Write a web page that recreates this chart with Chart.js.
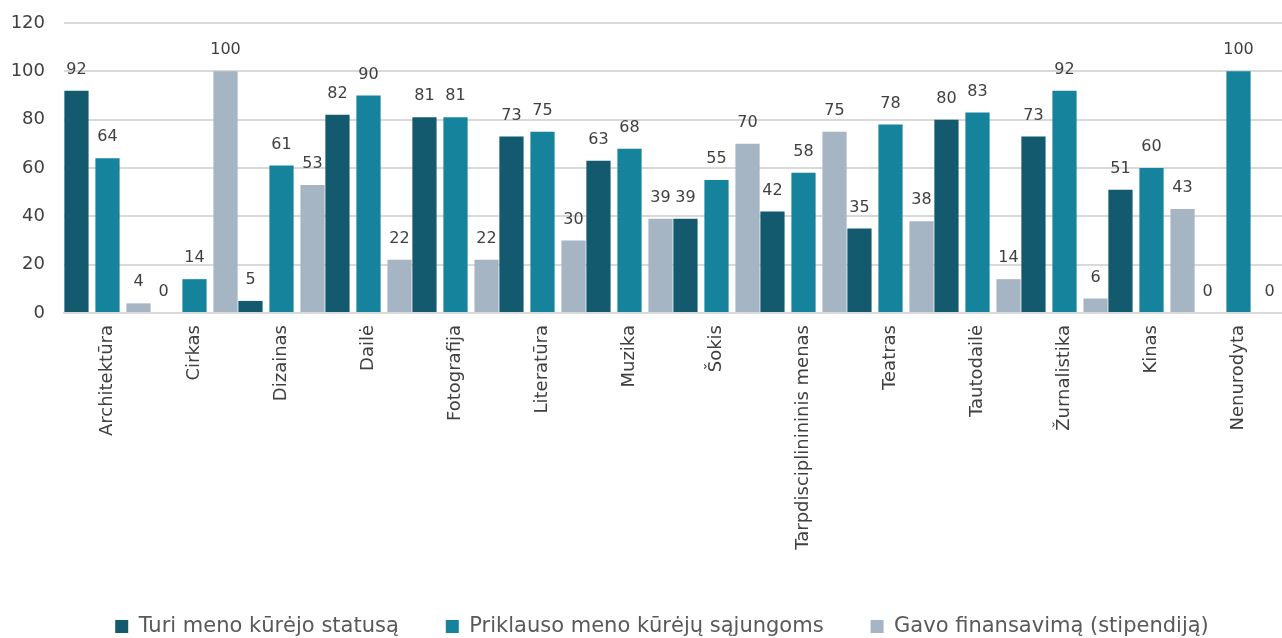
<!DOCTYPE html>
<html>
<head>
<meta charset="utf-8">
<script src="https://cdn.jsdelivr.net/npm/chart.js@4"></script>
<style>
    html, body { margin: 0; padding: 0; background: #fff; }
    #wrap { width: 1282px; height: 638px; }
</style>
</head>
<body>
<div id="wrap"><canvas id="chart"></canvas></div>
<script>
const categories = ['Architektūra', 'Cirkas', 'Dizainas', 'Dailė', 'Fotografija', 'Literatūra', 'Muzika',
    'Šokis', 'Tarpdisciplinininis menas', 'Teatras', 'Tautodailė', 'Žurnalistika', 'Kinas', 'Nenurodyta'];
const statusValues = [92, 0, 5, 82, 81, 73, 63, 39, 42, 35, 80, 73, 51, 0];
const unionValues = [64, 14, 61, 90, 81, 75, 68, 55, 58, 78, 83, 92, 60, 100];
const fundingValues = [4, 100, 53, 22, 22, 30, 39, 70, 75, 38, 14, 6, 43, 0];
const yTicks = [0, 20, 40, 60, 80, 100, 120];

const fontFamily = '"DejaVu Sans", sans-serif';
const textColor = '#404040';

// value labels above each bar
const barLabels = {
    id: 'barLabels',
    afterDatasetsDraw(chart) {
        const ctx = chart.ctx;
        ctx.save();
        ctx.font = '16px ' + fontFamily;
        ctx.fillStyle = textColor;
        ctx.textAlign = 'center';
        ctx.textBaseline = 'bottom';
        chart.data.datasets.forEach((ds, i) => {
            chart.getDatasetMeta(i).data.forEach((bar, j) => {
                ctx.fillText(ds.data[j], bar.x, bar.y - 13);
            });
        });
        ctx.restore();
    }
};

// legend in the original sits a little right of centre
const legendShift = {
    id: 'legendShift',
    afterLayout(chart) {
        chart.legend.left += 16;
        chart.legend.right += 16;
    }
};

function dataset(label, data, color) {
    return {
        label: label,
        data: data,
        backgroundColor: color,
        borderWidth: 0,
        categoryPercentage: 1.07,
        barPercentage: 0.78
    };
}

new Chart(document.getElementById('chart'), {
    type: 'bar',
    data: {
        labels: categories,
        datasets: [
            dataset('Turi meno kūrėjo statusą', statusValues, '#135a6f'),
            dataset('Priklauso meno kūrėjų sąjungoms', unionValues, '#16839c'),
            dataset('Gavo finansavimą (stipendiją)', fundingValues, '#a5b5c3')
        ]
    },
    options: {
        responsive: true,
        maintainAspectRatio: false,
        animation: false,
        layout: { padding: { top: 23, right: 0, left: 10, bottom: -9 } },
        plugins: {
            tooltip: { enabled: false },
            legend: {
                position: 'bottom',
                labels: {
                    boxWidth: 13,
                    boxHeight: 13,
                    padding: 47,
                    color: '#595959',
                    font: { family: fontFamily, size: 21 }
                }
            }
        },
        scales: {
            x: {
                grid: { display: false },
                border: { color: '#d9d9d9', width: 2 },
                afterFit(axis) { axis.height = 256; },
                ticks: {
                    minRotation: 90,
                    maxRotation: 90,
                    autoSkip: false,
                    padding: 4,
                    color: textColor,
                    font: { family: fontFamily, size: 18 }
                }
            },
            y: {
                min: 0,
                max: 120,
                afterBuildTicks(axis) {
                    axis.ticks = yTicks.map(v => ({ value: v }));
                },
                afterFit(axis) {
                    axis.width = 54;
                    axis.paddingTop = 0;
                    axis.paddingBottom = 0;
                },
                grid: { color: '#d9d9d9', lineWidth: 2, drawTicks: false },
                border: { display: false },
                ticks: {
                    padding: 19,
                    color: textColor,
                    font: { family: fontFamily, size: 18 }
                }
            }
        }
    },
    plugins: [barLabels, legendShift]
});
</script>
</body>
</html>
